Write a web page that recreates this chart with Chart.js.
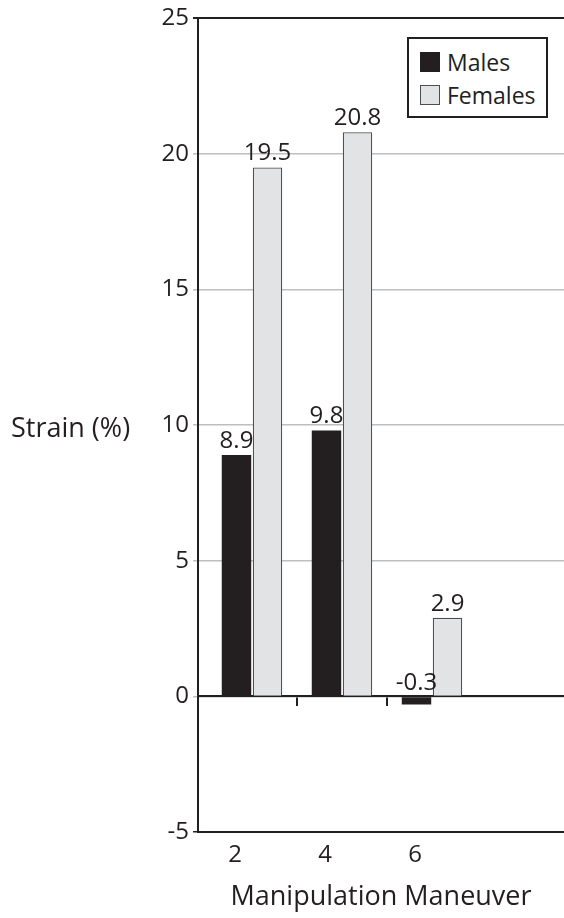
<!DOCTYPE html>
<html>
<head>
<meta charset="utf-8">
<script src="https://cdn.jsdelivr.net/npm/chart.js@4"></script>
<style>
  html, body { margin: 0; padding: 0; background: #fff; }
  #wrap { position: relative; width: 564px; height: 918px; font-family: "Open Sans", sans-serif; color: #231f20; }
  #yTitle { position: absolute; left: 11px; top: 410px; font-size: 27px; line-height: 34px; white-space: nowrap; }
  #legend { position: absolute; left: 407px; top: 37px; width: 137px; height: 77px; border: 2px solid #231f20; background: #fff; }
  #legend .item { display: flex; align-items: center; height: 33px; font-size: 23px; margin-left: 11px; }
  #legend .item:first-child { margin-top: 6px; }
  #legend .sw { width: 20px; height: 20px; margin-right: 7px; box-sizing: border-box; }
</style>
</head>
<body>
<div id="wrap">
  <canvas id="chart"></canvas>
  <div id="yTitle">Strain (%)</div>
  <div id="legend"></div>
</div>
<script>
// ---- data ----
const categories = ["2", "4", "6"];
const males = [8.9, 9.8, -0.3];
const females = [19.5, 20.8, 2.9];
const yTicks = [-5, 0, 5, 10, 15, 20, 25];

const INK = "#231f20";
const FEMALE_FILL = "#e2e3e4";
const FEMALE_EDGE = "#4d4d4f";
const GRID = "#bcbec0";
const FONT = "'Open Sans', sans-serif";

// x positions of the groups are just the category index
const xMin = 0.4;
const xMax = 4.4667;

function toPoints(values) {
  return values.map((v, i) => ({ x: i + 1, y: v }));
}

// html legend, boxed like the original
const legendItems = [
  { label: "Males", fill: INK, edge: INK },
  { label: "Females", fill: FEMALE_FILL, edge: FEMALE_EDGE }
];
document.getElementById("legend").innerHTML = legendItems.map((it) =>
  `<div class="item"><span class="sw" style="background:${it.fill};border:1px solid ${it.edge}"></span>${it.label}</div>`
).join("");

// value labels above each bar (negative bars get theirs above the zero line)
const valueLabels = {
  id: "valueLabels",
  afterDatasetsDraw(chart) {
    const ctx = chart.ctx;
    ctx.save();
    ctx.font = "24px " + FONT;
    ctx.fillStyle = INK;
    ctx.textAlign = "center";
    ctx.textBaseline = "bottom";
    chart.data.datasets.forEach((ds, di) => {
      chart.getDatasetMeta(di).data.forEach((bar, i) => {
        const v = ds.data[i].y;
        const top = Math.min(bar.y, bar.base);
        ctx.fillText(v.toFixed(1), bar.x, top - 2);
      });
    });
    ctx.restore();
  }
};

new Chart(document.getElementById("chart"), {
  type: "bar",
  data: {
    datasets: [
      {
        label: "Males",
        data: toPoints(males),
        backgroundColor: INK,
        borderColor: INK,
        borderWidth: 0,
        categoryPercentage: 0.689,
        barPercentage: 0.95
      },
      {
        label: "Females",
        data: toPoints(females),
        backgroundColor: FEMALE_FILL,
        borderColor: FEMALE_EDGE,
        borderWidth: 1.2,
        categoryPercentage: 0.689,
        barPercentage: 0.95
      }
    ]
  },
  options: {
    responsive: true,
    maintainAspectRatio: false,
    animation: false,
    layout: { padding: { top: 18, left: 0, right: 0, bottom: 0 } },
    plugins: {
      legend: { display: false },
      tooltip: { enabled: false }
    },
    scales: {
      x: {
        type: "linear",
        offset: false,
        min: xMin,
        max: xMax,
        afterBuildTicks: (scale) => {
          scale.ticks = categories.map((c, i) => ({ value: i + 1 }));
        },
        afterFit: (scale) => { scale.height = 86; },
        grid: { display: false, drawTicks: false, offset: false },
        border: { display: true, color: INK, width: 2 },
        ticks: {
          font: { family: FONT, size: 24 },
          color: INK,
          padding: 9,
          labelOffset: -17,
          callback: (v) => categories[v - 1]
        },
        title: {
          display: true,
          text: "Manipulation Maneuver",
          font: { family: FONT, size: 27 },
          color: INK,
          padding: { top: 0, bottom: 4 }
        }
      },
      // the zero line with its little separator ticks between groups
      x0: {
        type: "linear",
        axis: "x",
        position: { y: 0 },
        offset: false,
        min: xMin,
        max: xMax,
        afterBuildTicks: (scale) => {
          scale.ticks = categories.slice(1).map((c, i) => ({ value: i + 1.5 }));
        },
        grid: { display: true, offset: false, drawOnChartArea: false, drawTicks: true, tickLength: 9, color: INK, lineWidth: 2 },
        border: { display: true, color: INK, width: 2 },
        ticks: { display: false }
      },
      y: {
        min: -5,
        max: 25,
        afterBuildTicks: (scale) => {
          scale.ticks = yTicks.map((v) => ({ value: v }));
        },
        afterFit: (scale) => { scale.width = 198; },
        grid: {
          color: (c) => (c.tick && (c.tick.value === 25 || c.tick.value === -5) ? INK : GRID),
          lineWidth: (c) => (c.tick && c.tick.value === 25 ? 2 : 1.5),
          tickLength: 5
        },
        border: { display: true, color: INK, width: 2 },
        ticks: {
          font: { family: FONT, size: 24 },
          color: INK,
          padding: 4
        }
      }
    }
  },
  plugins: [valueLabels]
});
</script>
</body>
</html>
